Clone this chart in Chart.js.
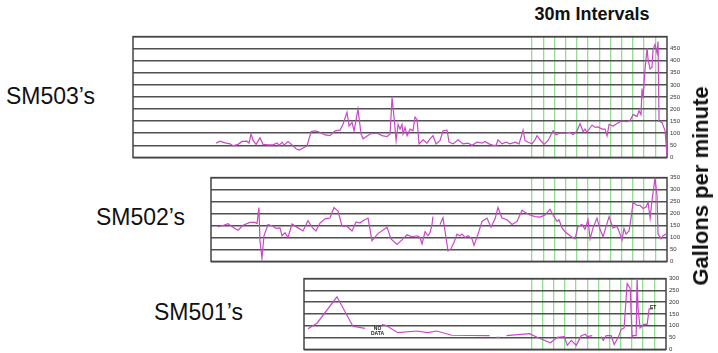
<!DOCTYPE html>
<html>
<head>
<meta charset="utf-8">
<script src="https://cdn.jsdelivr.net/npm/chart.js@4.4.1/dist/chart.umd.min.js"></script>
<style>
body{margin:0;width:718px;height:353px;overflow:hidden;background:#fff;position:relative;font-family:'Liberation Sans',Arial,sans-serif}
canvas{position:absolute}
.name{position:absolute;font-size:23px;line-height:1;color:#111;white-space:nowrap}
.head{position:absolute;font-weight:bold;line-height:1;color:#111;white-space:nowrap}
.tiny{position:absolute;font-size:5px;font-weight:bold;line-height:1;color:#222;text-align:center}
</style>
</head>
<body>
<canvas id="c503" width="561" height="134" style="left:128px;top:30px"></canvas>
<canvas id="c502" width="483" height="97" style="left:206px;top:171px"></canvas>
<canvas id="c501" width="389" height="84" style="left:299px;top:272px"></canvas>

<div class="name" style="left:6px;top:85px">SM503’s</div>
<div class="name" style="left:96px;top:206px">SM502’s</div>
<div class="name" style="left:154px;top:301px">SM501’s</div>
<div class="head" style="left:592px;top:5px;font-size:18px;transform:translateX(-50%)">30m Intervals</div>
<div class="head" style="left:701px;top:186px;font-size:22px;transform:translate(-50%,-50%) rotate(-90deg)">Gallons per minute</div>
<div class="tiny" style="left:371px;top:326px">NO<br>DATA</div>
<div class="tiny" style="left:650px;top:305px">ET</div>

<script>
// time axis in 30 minute intervals, 0 = first green line
const intervalTicks = [0,1,2,3,4,5,6,7,8,9,10,11];
const timeEnd = 12.05;

const sm503Time = [-28.21,-27.86,-27.41,-26.96,-26.70,-26.25,-25.89,-25.45,-25.27,-25.09,-24.91,-24.64,-24.29,-24.02,-23.57,-23.13,-22.77,-22.59,-22.32,-22.14,
  -21.79,-21.43,-21.07,-20.80,-20.27,-20.09,-19.73,-19.38,-19.11,-18.48,-18.04,-17.59,-17.14,-16.88,-16.52,-16.34,-16.07,-15.89,-15.54,-15.27,
  -15.09,-14.46,-13.84,-13.39,-12.95,-12.68,-12.50,-12.32,-12.14,-11.96,-11.79,-11.61,-11.52,-11.34,-11.16,-10.89,-10.63,-10.45,-10.27,-10.09,
  -9.73,-9.38,-9.11,-8.84,-8.57,-8.21,-7.95,-7.59,-7.41,-7.05,-6.61,-6.16,-5.71,-5.36,-4.91,-4.46,-4.20,-3.84,-3.48,-3.21,
  -3.04,-2.68,-2.32,-1.96,-1.52,-1.16,-0.80,-0.63,-0.36,0,0.27,0.45,0.71,1.07,1.43,1.88,2.14,2.50,2.95,3.39,
  3.66,4.02,4.29,4.55,4.73,4.91,5.36,5.63,5.89,6.25,6.52,6.70,6.88,7.23,7.59,7.95,8.48,8.75,9.02,9.38,
  9.55,9.73,9.82,9.91,10.09,10.27,10.36,10.54,10.71,10.80,10.98,11.16,11.25,11.34,11.61,11.88,12.05];
const sm503Gpm = [59,67,60,56,48,54,66,67,59,97,70,54,81,54,52,52,60,50,63,51,
  66,52,36,30,43,48,107,110,107,93,90,110,113,137,187,130,144,110,200,97,
  77,97,100,90,86,97,247,164,70,137,117,137,97,124,90,117,110,167,157,56,
  73,59,77,90,56,70,110,113,63,56,73,56,59,50,63,59,66,56,50,50,
  73,56,63,56,63,56,113,70,63,56,73,90,73,54,70,110,94,101,100,104,
  94,110,140,107,117,104,134,124,126,117,117,90,137,130,140,150,148,153,177,170,
  193,177,285,245,366,453,406,366,372,446,467,433,480,150,144,110,5];

const sm502Time = [-28.04,-27.59,-27.14,-26.70,-26.25,-25.80,-25.18,-24.73,-24.55,-24.38,-24.29,-24.11,-23.93,-23.57,-23.13,-22.86,-22.50,-22.32,-22.05,-21.79,
  -21.43,-20.89,-20.45,-20.00,-19.64,-19.29,-18.93,-18.48,-18.04,-17.68,-17.32,-16.96,-16.52,-16.07,-15.71,-15.36,-15.09,-14.64,-14.29,-13.75,
  -12.95,-12.59,-12.05,-11.61,-11.16,-10.71,-10.27,-10.00,-9.82,-9.55,-9.29,-9.11,-8.93,-8.84,-8.50,-8.21,-7.95,-7.77,-7.50,-7.23,
  -6.96,-6.70,-6.43,-6.25,-5.98,-5.71,-5.36,-5.18,-4.82,-4.46,-4.02,-3.66,-3.30,-3.04,-2.68,-2.23,-1.79,-1.34,-0.89,-0.63,
  -0.18,0.27,0.71,1.16,1.61,1.88,2.23,2.41,2.68,2.95,3.39,3.84,4.11,4.46,4.73,5.00,5.18,5.45,5.80,6.07,
  6.34,6.88,7.23,7.59,7.86,8.04,8.21,8.39,8.66,8.84,9.02,9.38,9.64,9.91,10.18,10.36,10.54,10.71,10.98,11.16,
  11.25,11.52,11.70,11.96];
const sm502Gpm = [144,150,158,143,130,151,163,163,158,225,87,13,107,154,147,138,140,107,120,100,
  156,140,127,170,143,127,160,178,181,225,210,147,147,127,165,160,170,181,87,116,
  143,94,71,90,111,103,107,100,73,124,107,120,154,187,null,154,183,127,44,53,
  80,114,107,114,100,107,94,67,114,167,181,143,178,225,181,174,154,167,214,205,
  194,187,185,194,218,194,167,174,140,124,107,94,147,154,134,174,94,140,181,134,
  103,187,140,147,114,90,138,114,127,181,247,234,234,221,227,247,181,254,348,274,
  114,94,107,114];

const sm501Time = [-20.00,-19.20,-17.41,-15.98,-14.91,-14.20,-13.39,-13.04,-11.96,-10.27,-9.29,-8.48,-7.14,-3.75,-3.40,-3.13,-2.86,-2.50,-2.23,-0.18,
  0.71,1.70,2.32,2.95,3.21,3.57,4.02,4.46,4.82,5.00,5.45,5.80,6.25,6.43,6.70,7.14,7.41,7.77,8.04,8.30,
  8.57,8.84,9.02,9.11,9.38,9.46,9.55,9.73,10.09,10.36,10.54,10.89];
const sm501Gpm = [87,111,223,98,89,null,105,102,71,78,71,78,60,58,null,51,51,null,58,67,
  47,28,51,54,17,38,17,58,64,54,58,null,54,38,58,58,21,51,85,91,
  279,259,51,58,58,306,172,91,107,105,172,172];

const lineColor = '#c848c8';

const boxPlugin = {
  id: 'box',
  beforeDatasetsDraw(chart) {
    const a = chart.chartArea, ctx = chart.ctx;
    ctx.save();
    ctx.strokeStyle = '#444';
    ctx.lineWidth = 1.5;
    ctx.strokeRect(a.left, a.top, a.right - a.left, a.bottom - a.top);
    ctx.restore();
  }
};

function makePanel(id, times, gpm, xMin, yMax, showTop) {
  new Chart(document.getElementById(id), {
    type: 'line',
    data: {
      datasets: [{
        data: times.map((t, i) => ({x: t, y: gpm[i]})),
        borderColor: lineColor,
        borderWidth: 1.2,
        pointRadius: 0,
        tension: 0,
        spanGaps: false
      }]
    },
    options: {
      responsive: false,
      animation: false,
      layout: {padding: {left: 5, top: 5, bottom: 5, right: 0}},
      plugins: {legend: {display: false}, tooltip: {enabled: false}},
      scales: {
        x: {
          type: 'linear', min: xMin, max: timeEnd,
          afterBuildTicks(s) { s.ticks = intervalTicks.map(v => ({value: v})); },
          ticks: {display: false},
          grid: {color: '#8ee08e', lineWidth: 1.3, drawTicks: false},
          border: {display: false},
          afterFit(s) { s.height = 0; }
        },
        y: {
          position: 'right', min: 0, max: yMax,
          ticks: {
            stepSize: 50, padding: 3, color: '#333',
            font: {size: 6, family: 'Liberation Sans'},
            callback: v => (v === yMax && !showTop) ? '' : v
          },
          grid: {color: '#505050', lineWidth: 1.5, drawTicks: false},
          border: {display: false},
          afterFit(s) { s.width = 22; }
        }
      }
    },
    plugins: [boxPlugin]
  });
}

makePanel('c503', sm503Time, sm503Gpm, -35.63, 500, false);
makePanel('c502', sm502Time, sm502Gpm, -28.66, 350, true);
makePanel('c501', sm501Time, sm501Gpm, -20.36, 300, true);
</script>
</body>
</html>
